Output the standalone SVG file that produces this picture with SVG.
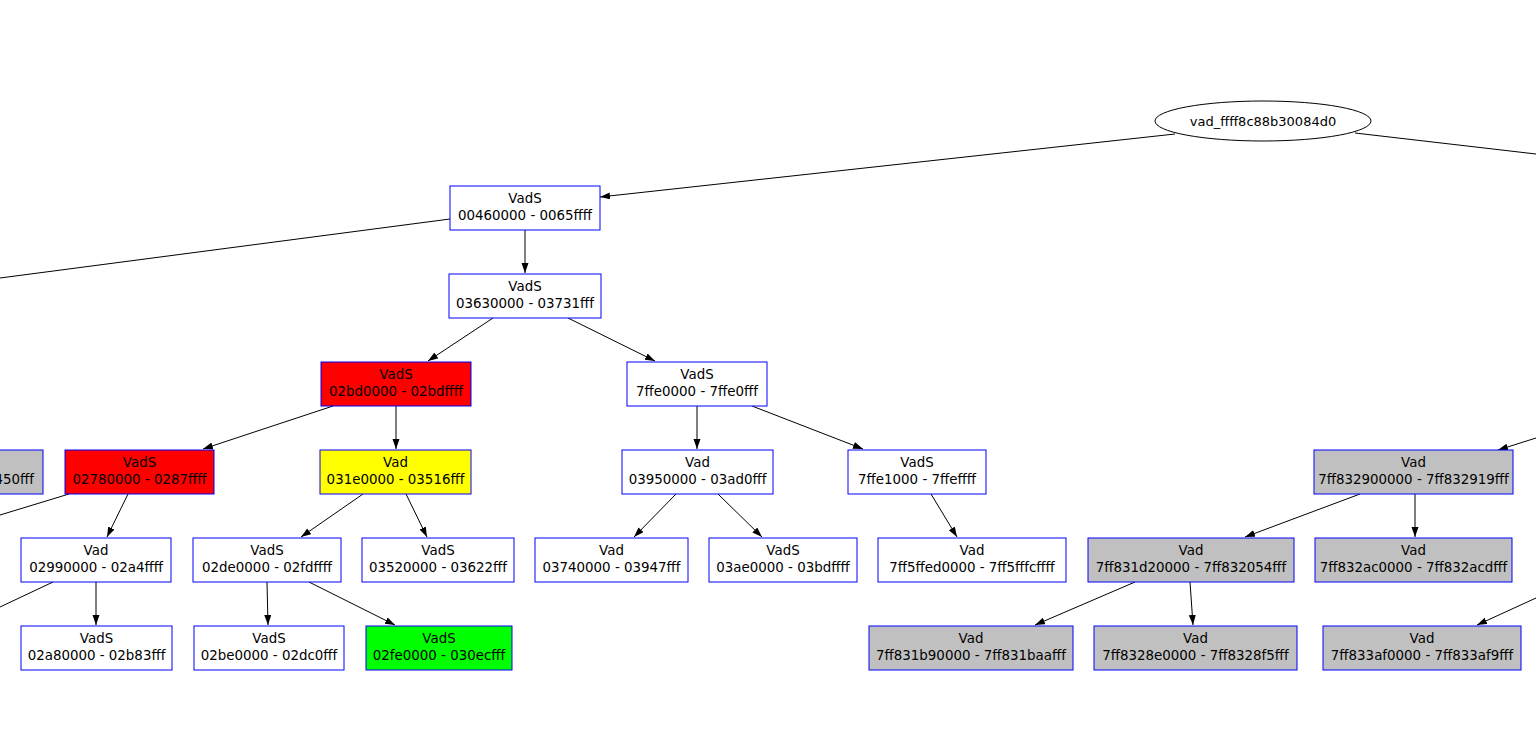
<svg xmlns="http://www.w3.org/2000/svg" width="1536" height="745" viewBox="0 0 1536 745">
<style>
.n rect{stroke:#0000ff;stroke-width:1;fill:#ffffff}
.n.red rect{fill:#ff0000}
.n.yel rect{fill:#ffff00}
.n.grn rect{fill:#00ff00}
.n.gry rect{fill:#c0c0c0}
text{font-family:"DejaVu Sans","Liberation Sans",sans-serif;font-size:13.4px;fill:#000;text-anchor:middle}
#root text{font-size:13px}
.e line{stroke:#000;stroke-width:1;fill:none}
.e line.a{marker-end:url(#arr)}
</style>
<defs>
<marker id="arr" markerUnits="userSpaceOnUse" markerWidth="11" markerHeight="8" refX="10" refY="3.5" orient="auto">
<path d="M0,0 L10,3.5 L0,7 z" fill="#000"/>
</marker>
</defs>
<rect width="1536" height="745" fill="#ffffff"/>
<g id="edges" class="e">
<line class="a" x1="1175" y1="134" x2="600" y2="197"/>
<line x1="1355" y1="133" x2="1536" y2="154"/>
<line x1="450" y1="219" x2="0" y2="278"/>
<line class="a" x1="525" y1="230" x2="525" y2="273"/>
<line class="a" x1="493" y1="318" x2="428" y2="361"/>
<line class="a" x1="568" y1="318" x2="655" y2="361"/>
<line class="a" x1="333" y1="406" x2="203" y2="449"/>
<line class="a" x1="396" y1="406" x2="396" y2="449"/>
<line class="a" x1="697" y1="406" x2="697" y2="449"/>
<line class="a" x1="752" y1="406" x2="863" y2="449"/>
<line class="a" x1="1536" y1="438" x2="1498" y2="450"/>
<line x1="69" y1="494" x2="0" y2="515"/>
<line class="a" x1="128" y1="494" x2="107" y2="537"/>
<line class="a" x1="363" y1="494" x2="301" y2="537"/>
<line class="a" x1="406" y1="494" x2="427" y2="537"/>
<line class="a" x1="676" y1="494" x2="634" y2="537"/>
<line class="a" x1="718" y1="494" x2="762" y2="537"/>
<line class="a" x1="931" y1="494" x2="957" y2="537"/>
<line class="a" x1="1360" y1="494" x2="1245" y2="537"/>
<line class="a" x1="1415" y1="494" x2="1415" y2="537"/>
<line x1="53" y1="582" x2="0" y2="607"/>
<line class="a" x1="96" y1="582" x2="96" y2="625"/>
<line class="a" x1="267" y1="582" x2="268" y2="625"/>
<line class="a" x1="309" y1="582" x2="395" y2="625"/>
<line class="a" x1="1135" y1="582" x2="1035" y2="625"/>
<line class="a" x1="1190" y1="582" x2="1193" y2="625"/>
<line class="a" x1="1536" y1="598" x2="1477" y2="625"/>
</g>
<g id="root">
<ellipse cx="1263" cy="121" rx="108" ry="20" fill="#ffffff" stroke="#000" stroke-width="1"/>
<text x="1263" y="126">vad_ffff8c88b30084d0</text>
</g>
<g id="n00460000" class="n"><rect x="450" y="186" width="150" height="44"/><text x="525" y="203">VadS</text><text x="525" y="220">00460000 - 0065ffff</text></g>
<g id="n03630000" class="n"><rect x="449" y="274" width="152" height="44"/><text x="525" y="291">VadS</text><text x="525" y="308">03630000 - 03731fff</text></g>
<g id="n02bd0000" class="n red"><rect x="321" y="362" width="150" height="44"/><text x="396" y="379">VadS</text><text x="396" y="396">02bd0000 - 02bdffff</text></g>
<g id="n7ffe0000" class="n"><rect x="627" y="362" width="140" height="44"/><text x="697" y="379">VadS</text><text x="697" y="396">7ffe0000 - 7ffe0fff</text></g>
<g id="nleft450" class="n gry"><rect x="-120" y="450" width="163" height="44"/><text x="34" y="484" style="text-anchor:end">450fff</text></g>
<g id="n02780000" class="n red"><rect x="65" y="450" width="149" height="44"/><text x="139.5" y="467">VadS</text><text x="139.5" y="484">02780000 - 0287ffff</text></g>
<g id="n031e0000" class="n yel"><rect x="320" y="450" width="151" height="44"/><text x="395.5" y="467">Vad</text><text x="395.5" y="484">031e0000 - 03516fff</text></g>
<g id="n03950000" class="n"><rect x="622" y="450" width="151" height="44"/><text x="697.5" y="467">Vad</text><text x="697.5" y="484">03950000 - 03ad0fff</text></g>
<g id="n7ffe1000" class="n"><rect x="848" y="450" width="138" height="44"/><text x="917" y="467">VadS</text><text x="917" y="484">7ffe1000 - 7ffeffff</text></g>
<g id="n7ff832900000" class="n gry"><rect x="1314" y="450" width="199" height="44"/><text x="1413.5" y="467">Vad</text><text x="1413.5" y="484">7ff832900000 - 7ff832919fff</text></g>
<g id="n02990000" class="n"><rect x="21" y="538" width="150" height="44"/><text x="96" y="555">Vad</text><text x="96" y="572">02990000 - 02a4ffff</text></g>
<g id="n02de0000" class="n"><rect x="193" y="538" width="148" height="44"/><text x="267" y="555">VadS</text><text x="267" y="572">02de0000 - 02fdffff</text></g>
<g id="n03520000" class="n"><rect x="362" y="538" width="152" height="44"/><text x="438" y="555">VadS</text><text x="438" y="572">03520000 - 03622fff</text></g>
<g id="n03740000" class="n"><rect x="535" y="538" width="153" height="44"/><text x="611.5" y="555">Vad</text><text x="611.5" y="572">03740000 - 03947fff</text></g>
<g id="n03ae0000" class="n"><rect x="709" y="538" width="148" height="44"/><text x="783" y="555">VadS</text><text x="783" y="572">03ae0000 - 03bdffff</text></g>
<g id="n7ff5ffed0000" class="n"><rect x="878" y="538" width="188" height="44"/><text x="972" y="555">Vad</text><text x="972" y="572">7ff5ffed0000 - 7ff5fffcffff</text></g>
<g id="n7ff831d20000" class="n gry"><rect x="1088" y="538" width="206" height="44"/><text x="1191" y="555">Vad</text><text x="1191" y="572">7ff831d20000 - 7ff832054fff</text></g>
<g id="n7ff832ac0000" class="n gry"><rect x="1315" y="538" width="197" height="44"/><text x="1413.5" y="555">Vad</text><text x="1413.5" y="572">7ff832ac0000 - 7ff832acdfff</text></g>
<g id="n02a80000" class="n"><rect x="21" y="626" width="151" height="44"/><text x="96.5" y="643">VadS</text><text x="96.5" y="660">02a80000 - 02b83fff</text></g>
<g id="n02be0000" class="n"><rect x="194" y="626" width="150" height="44"/><text x="269" y="643">VadS</text><text x="269" y="660">02be0000 - 02dc0fff</text></g>
<g id="n02fe0000" class="n grn"><rect x="366" y="626" width="146" height="44"/><text x="439" y="643">VadS</text><text x="439" y="660">02fe0000 - 030ecfff</text></g>
<g id="n7ff831b90000" class="n gry"><rect x="869" y="626" width="204" height="44"/><text x="971" y="643">Vad</text><text x="971" y="660">7ff831b90000 - 7ff831baafff</text></g>
<g id="n7ff8328e0000" class="n gry"><rect x="1094" y="626" width="203" height="44"/><text x="1195.5" y="643">Vad</text><text x="1195.5" y="660">7ff8328e0000 - 7ff8328f5fff</text></g>
<g id="n7ff833af0000" class="n gry"><rect x="1323" y="626" width="198" height="44"/><text x="1422" y="643">Vad</text><text x="1422" y="660">7ff833af0000 - 7ff833af9fff</text></g>
</svg>
